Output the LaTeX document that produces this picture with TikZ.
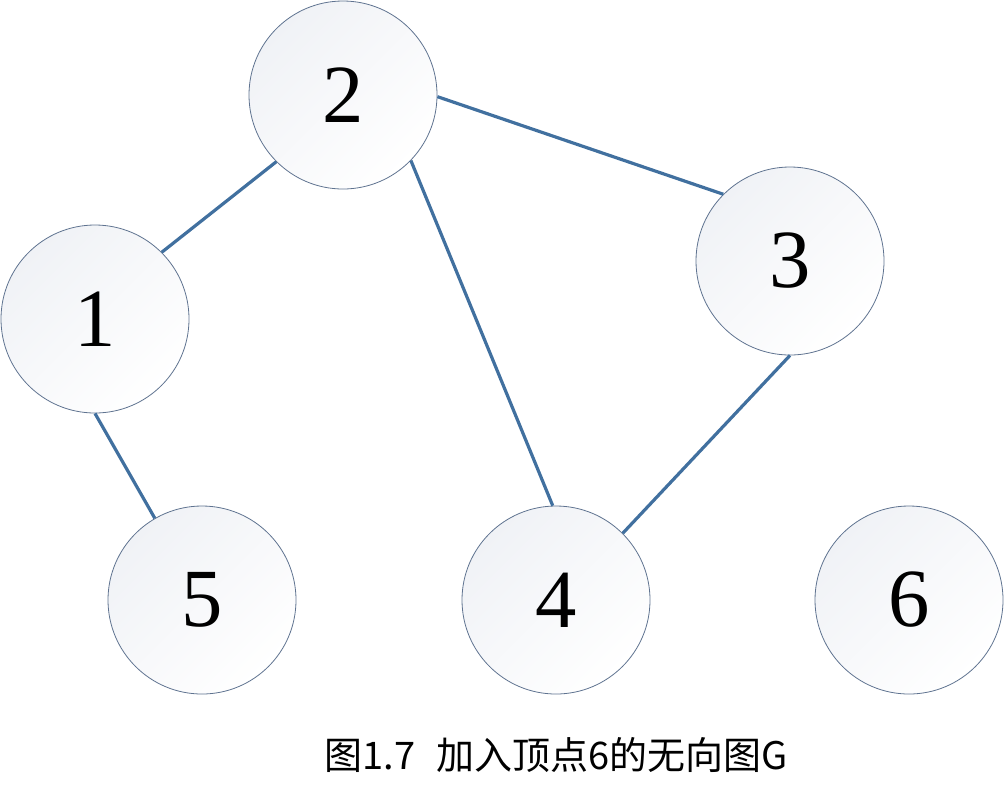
\documentclass[tikz,border=0pt]{standalone}
\usepackage{fontspec}
\setmainfont{Liberation Serif}
\newfontfamily\digitfont{Liberation Serif}
\newfontfamily\cjk{Noto Sans CJK SC}
\definecolor{edgecol}{HTML}{41709F}
\definecolor{rimcol}{HTML}{5F7390}
\definecolor{fillcol}{HTML}{F0F2F6}
\begin{document}
\begin{tikzpicture}[x=0.75pt,y=-0.75pt,
  vertex/.style={circle, draw=rimcol, line width=0.6pt, minimum size=141pt, inner sep=0pt,
    top color=fillcol, bottom color=white, shading angle=45,
    font=\digitfont\fontsize{62}{62}\selectfont},
  link/.style={draw=edgecol, line width=2.4pt}]
\useasboundingbox (0,0) rectangle (1005,801);
\node[vertex] (n2) at (343,95) {2};
\node[vertex] (n1) at (95,319) {1};
\node[vertex] (n3) at (790,261) {3};
\node[vertex] (n5) at (202,600) {5};
\node[vertex] (n4) at (556,600) {4};
\node[vertex] (n6) at (909,600) {6};
\draw[link] (n2.-1) -- (n3.135);
\draw[link] (n1.45) -- (n2.225);
\draw[link] (n2.-44) -- (n4.92);
\draw[link] (n3.270) -- (n4.45);
\draw[link] (n1.270) -- (n5.120);
\node[font=\cjk\fontsize{28.5}{28.5}\selectfont] (cap) at (556,755) {图1.7\hspace{0.55em}加入顶点6的无向图G};
\end{tikzpicture}
\end{document}
